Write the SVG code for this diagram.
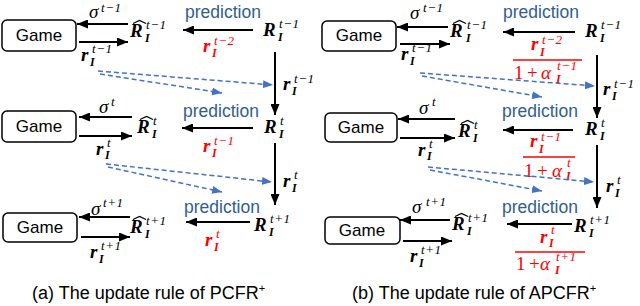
<svg xmlns="http://www.w3.org/2000/svg" width="640" height="306" viewBox="0 0 640 306">
<style>
.box{fill:#fff;stroke:#000;stroke-width:1.5}
.g{font-family:"Liberation Sans",Arial,sans-serif;font-size:17px;text-anchor:middle;fill:#000}
.p{font-family:"Liberation Sans",Arial,sans-serif;font-size:17.5px;fill:#2F5E8E}
.cap{font-family:"Liberation Sans",Arial,sans-serif;font-size:18px;fill:#000}
.b{font-family:"Liberation Serif","Times New Roman",serif;font-style:italic;font-weight:bold;font-size:19px}
.s{font-family:"Liberation Serif","Times New Roman",serif;font-style:italic;font-size:13px;letter-spacing:0.6px}
.i{font-family:"Liberation Serif","Times New Roman",serif;font-style:italic;font-weight:bold;font-size:12px}
.m{font-family:"Liberation Serif","Times New Roman",serif;font-style:italic;font-size:19px}
.n{font-family:"Liberation Serif","Times New Roman",serif;font-size:19px}
.red{fill:#FF0000}
.k{stroke:#000;stroke-width:2;fill:none;marker-end:url(#ka)}
.d{stroke:#4472C4;stroke-width:1.5;stroke-dasharray:5 3;fill:none;marker-end:url(#da)}
.hat{stroke:#000;stroke-width:1.2;fill:none}
.fl{stroke:#FF0000;stroke-width:1.5}
</style>
<defs>
<marker id="ka" markerUnits="userSpaceOnUse" markerWidth="11" markerHeight="9" viewBox="0 0 11 9" refX="11" refY="4.5" orient="auto"><path d="M0,0 L11,4.5 L0,9 z" fill="#000"/></marker>
<marker id="da" markerUnits="userSpaceOnUse" markerWidth="10" markerHeight="8" viewBox="0 0 10 8" refX="10" refY="4" orient="auto"><path d="M0,0 L10,4 L0,8 z" fill="#4472C4"/></marker>
</defs>

<!-- LEFT PANEL -->
<g id="a-game1"><rect class="box" x="2" y="20" width="74" height="31" rx="5"/><text class="g" x="39" y="41">Game</text></g>
<g id="a-game2"><rect class="box" x="2" y="111" width="74" height="31" rx="5"/><text class="g" x="39" y="132">Game</text></g>
<g id="a-game3"><rect class="box" x="3" y="213" width="74" height="29" rx="5"/><text class="g" x="40" y="233">Game</text></g>

<g id="a-sigma1"><text class="m" x="89" y="18">σ</text><text class="s" x="101" y="12">t−1</text></g>
<g id="a-sigma2"><text class="m" x="99" y="113">σ</text><text class="s" x="111" y="106">t</text></g>
<g id="a-sigma3"><text class="m" x="91" y="215">σ</text><text class="s" x="103" y="207">t+1</text></g>

<g id="a-rhat1"><text class="b" x="130" y="37">R</text><polyline class="hat" points="133,23.5 139.5,20.5 146,23.5"/><text class="s" x="146" y="29">t−1</text><text class="i" x="145" y="42">I</text></g>
<g id="a-rhat2"><text class="b" x="137" y="133">R</text><polyline class="hat" points="140,119.5 146.5,116.5 153,119.5"/><text class="s" x="153" y="125">t</text><text class="i" x="152" y="138">I</text></g>
<g id="a-rhat3"><text class="b" x="130" y="233">R</text><polyline class="hat" points="133,219.5 139.5,216.5 146,219.5"/><text class="s" x="146" y="225">t+1</text><text class="i" x="145" y="238">I</text></g>

<g id="a-r1"><text class="b" x="81" y="61">r</text><text class="s" x="92" y="53">t−1</text><text class="i" x="90" y="66">I</text></g>
<g id="a-r2"><text class="b" x="96" y="155">r</text><text class="s" x="107" y="147">t</text><text class="i" x="105" y="159">I</text></g>
<g id="a-r3"><text class="b" x="90" y="258">r</text><text class="s" x="101" y="250">t+1</text><text class="i" x="99" y="263">I</text></g>

<g id="a-pred1"><text class="p" x="185" y="18">prediction</text><text class="b red" x="203" y="52">r</text><text class="s red" x="214" y="45">t−2</text><text class="i red" x="212" y="57">I</text></g>
<g id="a-pred2"><text class="p" x="183" y="117">prediction</text><text class="b red" x="203" y="152">r</text><text class="s red" x="214" y="145">t−1</text><text class="i red" x="212" y="157">I</text></g>
<g id="a-pred3"><text class="p" x="184" y="213">prediction</text><text class="b red" x="205" y="246">r</text><text class="s red" x="216" y="238">t</text><text class="i red" x="214" y="251">I</text></g>

<g id="a-R1"><text class="b" x="263" y="36">R</text><text class="s" x="279" y="28">t−1</text><text class="i" x="278" y="41">I</text></g>
<g id="a-R2"><text class="b" x="264" y="133">R</text><text class="s" x="280" y="125">t</text><text class="i" x="279" y="138">I</text></g>
<g id="a-R3"><text class="b" x="254" y="231">R</text><text class="s" x="270" y="223">t+1</text><text class="i" x="269" y="236">I</text></g>

<g id="a-rv1"><text class="b" x="283" y="90">r</text><text class="s" x="294" y="83">t−1</text><text class="i" x="292" y="95">I</text></g>
<g id="a-rv2"><text class="b" x="283" y="187">r</text><text class="s" x="294" y="179">t</text><text class="i" x="292" y="192">I</text></g>

<text class="cap" x="32" y="299">(a) The update rule of PCFR<tspan font-size="11" dy="-7">+</tspan></text>

<!-- RIGHT PANEL -->
<g id="b-game1"><rect class="box" x="322" y="21" width="74" height="30" rx="5"/><text class="g" x="359" y="41">Game</text></g>
<g id="b-game2"><rect class="box" x="325" y="113" width="72" height="29" rx="5"/><text class="g" x="361" y="133">Game</text></g>
<g id="b-game3"><rect class="box" x="325" y="217" width="75" height="27" rx="5"/><text class="g" x="362" y="236">Game</text></g>

<g id="b-sigma1"><text class="m" x="410" y="19">σ</text><text class="s" x="423" y="12">t−1</text></g>
<g id="b-sigma2"><text class="m" x="419" y="114">σ</text><text class="s" x="432" y="106">t</text></g>
<g id="b-sigma3"><text class="m" x="412" y="213">σ</text><text class="s" x="426" y="206">t+1</text></g>

<g id="b-rhat1"><text class="b" x="450" y="37">R</text><polyline class="hat" points="453,23.5 459.5,20.5 466,23.5"/><text class="s" x="467" y="29">t−1</text><text class="i" x="466" y="42">I</text></g>
<g id="b-rhat2"><text class="b" x="458" y="137">R</text><polyline class="hat" points="461,123.5 467.5,120.5 474,123.5"/><text class="s" x="474" y="129">t</text><text class="i" x="473" y="142">I</text></g>
<g id="b-rhat3"><text class="b" x="452" y="230">R</text><polyline class="hat" points="455,216.5 461.5,213.5 468,216.5"/><text class="s" x="468" y="222">t+1</text><text class="i" x="467" y="235">I</text></g>

<g id="b-r1"><text class="b" x="401" y="60">r</text><text class="s" x="412" y="52">t−1</text><text class="i" x="410" y="65">I</text></g>
<g id="b-r2"><text class="b" x="418" y="156">r</text><text class="s" x="429" y="148">t</text><text class="i" x="427" y="160">I</text></g>
<g id="b-r3"><text class="b" x="410" y="262">r</text><text class="s" x="421" y="254">t+1</text><text class="i" x="419" y="267">I</text></g>

<g id="b-pred1"><text class="p" x="503" y="18">prediction</text>
<text class="b red" x="531" y="50">r</text><text class="s red" x="542" y="44">t−2</text><text class="i red" x="540" y="56">I</text>
<line class="fl" x1="513" y1="60" x2="582" y2="60"/>
<text class="n red" x="514" y="79">1</text><text class="n red" x="527" y="79">+</text><text class="m red" x="541" y="79">α</text><text class="s red" x="557" y="70">t−1</text><text class="i red" x="556" y="83">I</text></g>
<g id="b-pred2"><text class="p" x="502" y="117">prediction</text>
<text class="b red" x="530" y="147">r</text><text class="s red" x="541" y="141">t−1</text><text class="i red" x="539" y="153">I</text>
<line class="fl" x1="523" y1="157" x2="575" y2="157"/>
<text class="n red" x="524" y="177">1</text><text class="n red" x="537" y="177">+</text><text class="m red" x="552" y="177">α</text><text class="s red" x="567" y="167">t</text><text class="i red" x="566" y="180">I</text></g>
<g id="b-pred3"><text class="p" x="502" y="213">prediction</text>
<text class="b red" x="540" y="243">r</text><text class="s red" x="551" y="234">t</text><text class="i red" x="549" y="247">I</text>
<line class="fl" x1="515" y1="252" x2="585" y2="252"/>
<text class="n red" x="516" y="270">1</text><text class="n red" x="529" y="270">+</text><text class="m red" x="540" y="270">α</text><text class="s red" x="556" y="261">t+1</text><text class="i red" x="555" y="274">I</text></g>

<g id="b-R1"><text class="b" x="585" y="37">R</text><text class="s" x="601" y="29">t−1</text><text class="i" x="600" y="42">I</text></g>
<g id="b-R2"><text class="b" x="585" y="135">R</text><text class="s" x="601" y="127">t</text><text class="i" x="600" y="140">I</text></g>
<g id="b-R3"><text class="b" x="574" y="232">R</text><text class="s" x="590" y="224">t+1</text><text class="i" x="589" y="237">I</text></g>

<g id="b-rv1"><text class="b" x="603" y="95">r</text><text class="s" x="614" y="88">t−1</text><text class="i" x="612" y="100">I</text></g>
<g id="b-rv2"><text class="b" x="606" y="192">r</text><text class="s" x="617" y="184">t</text><text class="i" x="615" y="197">I</text></g>

<text class="cap" x="352" y="299">(b) The update rule of APCFR<tspan font-size="11" dy="-7">+</tspan></text>

<!-- CONNECTORS -->
<g id="connectors">
<line class="k" x1="128" y1="24" x2="77" y2="24"/>
<line class="k" x1="79" y1="42" x2="128" y2="42"/>
<line class="k" x1="253" y1="30" x2="183" y2="30"/>
<line class="k" x1="275" y1="52" x2="275" y2="115"/>
<line class="k" x1="132" y1="117" x2="79" y2="117"/>
<line class="k" x1="79" y1="136" x2="132" y2="136"/>
<line class="k" x1="253" y1="128" x2="182" y2="128"/>
<line class="k" x1="275" y1="143" x2="275" y2="205"/>
<line class="k" x1="130" y1="217" x2="79" y2="217"/>
<line class="k" x1="81" y1="237" x2="130" y2="237"/>
<line class="k" x1="250" y1="222" x2="186" y2="222"/>
<path class="d" d="M98,71 L273,85"/>
<path class="d" d="M100,74 L222,93"/>
<path class="d" d="M106,164 L272,182"/>
<path class="d" d="M108,167 L222,192"/>

<line class="k" x1="448" y1="27" x2="397" y2="27"/>
<line class="k" x1="400" y1="44" x2="450" y2="44"/>
<line class="k" x1="575" y1="32" x2="503" y2="32"/>
<line class="k" x1="597" y1="55" x2="597" y2="118"/>
<line class="k" x1="455" y1="119" x2="398" y2="119"/>
<line class="k" x1="400" y1="138" x2="455" y2="138"/>
<line class="k" x1="573" y1="130" x2="503" y2="130"/>
<line class="k" x1="597" y1="145" x2="597" y2="208"/>
<line class="k" x1="450" y1="220" x2="400" y2="220"/>
<line class="k" x1="403" y1="241" x2="452" y2="241"/>
<line class="k" x1="572" y1="224" x2="507" y2="224"/>
<path class="d" d="M420,73 L595,86"/>
<path class="d" d="M422,76 L542,97"/>
<path class="d" d="M428,167 L594,182"/>
<path class="d" d="M430,170 L542,191"/>
</g>
</svg>
